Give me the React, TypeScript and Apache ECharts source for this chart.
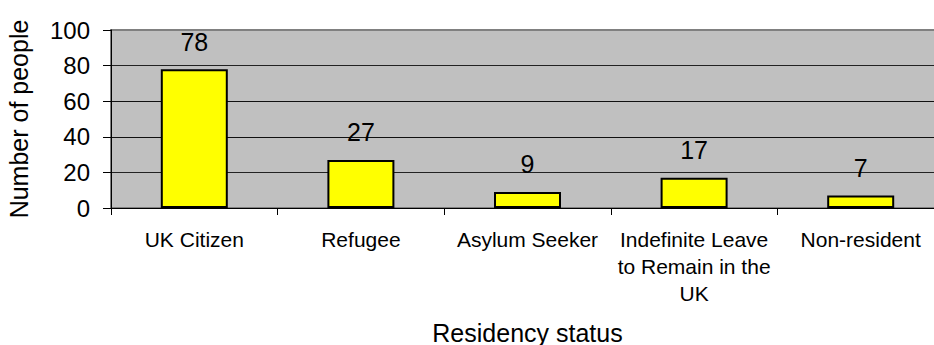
import React, { useEffect, useRef } from "react";
import * as echarts from "echarts";

// Residency status breakdown
const categories: string[] = [
  "UK Citizen",
  "Refugee",
  "Asylum Seeker",
  "Indefinite Leave\nto Remain in the\nUK",
  "Non-resident",
];
const peopleCounts: number[] = [78, 27, 9, 17, 7];
const yTicks = { min: 0, max: 100, interval: 20 };

const FONT = "'Liberation Sans', Arial, sans-serif";

export default function App() {
  const ref = useRef<HTMLDivElement>(null);

  useEffect(() => {
    if (!ref.current) return;
    const chart = echarts.init(ref.current, null, { renderer: "svg" });
    chart.setOption({
      animation: false,
      textStyle: { fontFamily: FONT },
      grid: {
        left: 111,
        top: 30,
        width: 833,
        height: 178,
        outerBoundsMode: "none",
        containLabel: false,
        show: true,
        backgroundColor: "#c0c0c0",
        borderColor: "#808080",
        borderWidth: 2,
      },
      xAxis: {
        type: "category",
        data: categories,
        name: "Residency status",
        nameLocation: "middle",
        nameGap: 112,
        nameTextStyle: { fontSize: 25, color: "#000", fontFamily: FONT },
        axisLine: { show: true, lineStyle: { color: "#000", width: 1 } },
        axisTick: { show: true, length: 7, lineStyle: { color: "#000" } },
        axisLabel: {
          interval: 0,
          margin: 18,
          fontSize: 21,
          lineHeight: 27,
          color: "#000",
          fontFamily: FONT,
          align: "center",
        },
        splitLine: { show: false },
      },
      yAxis: {
        type: "value",
        min: yTicks.min,
        max: yTicks.max,
        interval: yTicks.interval,
        name: "Number of people",
        nameLocation: "middle",
        nameGap: 80,
        nameTextStyle: { fontSize: 25, color: "#000", fontFamily: FONT },
        axisLine: { show: true, lineStyle: { color: "#000", width: 1 } },
        axisTick: { show: true, length: 8, lineStyle: { color: "#000" } },
        axisLabel: { margin: 21, fontSize: 24, color: "#000", fontFamily: FONT },
        splitLine: {
          show: true,
          lineStyle: {
            color: ["#000", "#222", "#111", "#111", "#222", "#808080"],
            width: 1,
          },
        },
      },
      series: [
        {
          type: "bar",
          data: peopleCounts,
          barWidth: 67,
          itemStyle: { color: "#ffff00", borderColor: "#000", borderWidth: 2 },
          label: {
            show: true,
            position: "top",
            distance: 15,
            fontSize: 25,
            color: "#000",
            fontFamily: FONT,
          },
        },
      ],
    });
    return () => chart.dispose();
  }, []);

  return (
    <div
      ref={ref}
      style={{
        position: "fixed",
        left: 0,
        top: 0,
        width: 934,
        height: 345,
        background: "#fff",
      }}
    />
  );
}
